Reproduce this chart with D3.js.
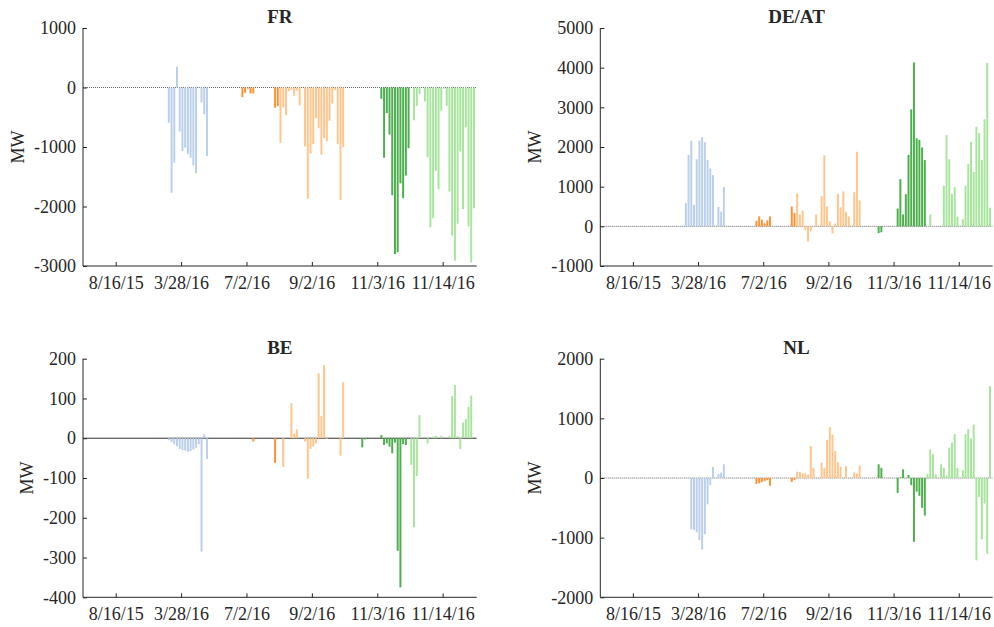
<!DOCTYPE html>
<html>
<head>
<meta charset="utf-8">
<script src="https://cdn.jsdelivr.net/npm/d3@7"></script>
<style>
  body { margin: 0; background: #fff; }
  text { font-family: "Liberation Serif", "Times New Roman", serif; fill: #262626; }
</style>
</head>
<body>
<svg id="chart" width="994" height="627"></svg>
<script>
// Hourly net flows (MW) for six representative days, 24 hours each.
const dayLabels = ["8/16/15", "3/28/16", "7/2/16", "9/2/16", "11/3/16", "11/14/16"];
const dayColors = ["#1f77b4", "#bacfeb", "#ff9232", "#ffc58c", "#4cae4c", "#a7e49c"];

const frValues = [
  0,0,0,0,0,0,0,0,0,0,0,0,0,0,0,0,0,0,0,0,0,0,0,0,
  0,0,0,0,0,0,0,-590,-1770,-1260,350,-740,-1070,-1010,-1120,-1180,-1310,-1440,-10,-250,-450,-1150,0,0,
  0,0,0,0,0,0,0,0,0,0,-160,-90,-20,-100,-100,0,0,0,0,0,0,0,-340,-310,
  -935,-336,-465,-60,-40,-140,-50,-300,0,-990,-1870,-1110,-950,-515,-685,-1130,-850,-905,-560,-270,-45,-950,-1890,-1000,
  0,0,0,0,0,0,0,0,0,0,0,0,0,-190,-1180,-430,-790,-1810,-2800,-2770,-1610,-1860,-1480,-1020,
  0,-550,-310,-110,0,-235,-1175,-2350,-2195,-1400,-1710,-390,-20,-310,-1750,-2490,-2910,-2290,-1075,-2045,-670,-2335,-2940,-2030
];

const deValues = [
  0,0,0,0,0,0,0,0,0,0,0,0,0,0,0,0,0,0,0,0,0,0,0,0,
  0,0,0,0,0,0,0,590,1800,2160,540,1690,2160,2250,2120,1670,1460,1290,0,490,370,990,0,0,
  0,0,0,0,0,0,0,0,0,140,250,170,80,150,250,0,0,0,0,0,0,0,500,340,
  830,300,400,-100,-380,-130,0,300,0,760,1790,500,130,-180,70,820,480,880,370,250,0,860,1880,650,
  0,0,0,0,0,0,-170,-150,0,0,0,0,0,450,1190,300,810,1800,2950,4130,2220,2180,1990,1670,
  0,300,0,0,0,0,1020,2300,1690,810,990,240,0,180,1020,1570,2130,1370,2510,2350,1670,2700,4120,470
];

const beValues = [
  0,0,0,0,0,0,0,0,0,0,0,0,0,0,0,0,0,0,0,0,0,0,0,0,
  0,0,0,0,0,0,0,-5,-10,-15,-20,-27,-30,-31,-34,-32,-28,-24,-15,-285,10,-52,0,0,
  0,0,0,0,0,0,0,0,0,0,0,0,0,0,-8,0,0,0,0,0,0,0,-62,0,
  0,-72,0,0,88,12,22,0,0,-8,-102,-27,-21,-13,163,56,184,-2,0,0,0,0,-44,141,
  0,0,0,0,0,0,-23,-3,0,0,0,0,0,8,-17,-13,-21,-38,-11,-283,-375,-15,-17,0,
  -67,-224,-95,58,0,0,-13,0,4,6,0,6,0,0,5,106,134,5,-27,39,48,79,107,0
];

const nlValues = [
  0,0,0,0,0,0,0,0,0,0,0,0,0,0,0,0,0,0,0,0,0,0,0,0,
  0,0,0,0,0,0,0,10,0,-860,-870,-910,-1040,-1200,-940,-440,-120,185,10,70,90,230,0,0,
  0,0,0,0,0,0,0,0,0,-100,-90,-70,-55,-35,-130,0,0,0,0,0,0,0,-67,-34,
  106,100,78,78,56,536,173,0,0,257,173,637,855,726,453,263,190,0,200,0,0,95,78,212,
  0,0,0,0,0,0,230,170,0,0,0,0,0,-250,10,145,0,50,-120,-1070,-230,-300,-500,-630,
  70,480,400,60,0,230,170,40,510,595,735,170,0,130,735,820,660,895,-1380,-320,-1030,-430,-1270,1540
];

const frTicks = [-3000, -2000, -1000, 0, 1000];
const deTicks = [-1000, 0, 1000, 2000, 3000, 4000, 5000];
const beTicks = [-400, -300, -200, -100, 0, 100, 200];
const nlTicks = [-2000, -1000, 0, 1000, 2000];

const panels = [
  { title: "FR",    values: frValues, ticks: frTicks, box: { left: 83,    right: 476.7, top: 28,    bottom: 266 },   dotted: true },
  { title: "DE/AT", values: deValues, ticks: deTicks, box: { left: 600.3, right: 992.7, top: 28,    bottom: 266 },   dotted: true },
  { title: "BE",    values: beValues, ticks: beTicks, box: { left: 83,    right: 476.7, top: 358.7, bottom: 597.3 }, dotted: false },
  { title: "NL",    values: nlValues, ticks: nlTicks, box: { left: 600.3, right: 992.7, top: 358.7, bottom: 597.3 }, dotted: true }
];

const svg = d3.select("#chart");
svg.append("rect").attr("width", 994).attr("height", 627).attr("fill", "#fff");

const axisColor = "#262626";
const tickFont = 18;
const tickLen = 4;
const hours = d3.range(1, 145);
const dayTickPos = dayLabels.map((d, k) => 12.5 + 24 * k);

panels.forEach(p => {
  const b = p.box;
  const x = d3.scaleLinear().domain([0.5, 145]).range([b.left, b.right]);
  const y = d3.scaleLinear().domain([p.ticks[0], p.ticks[p.ticks.length - 1]]).range([b.bottom, b.top]);
  const g = svg.append("g");
  const bw = (x(2) - x(1)) * 0.72;

  // zero baseline
  g.append("line")
    .attr("x1", b.left).attr("x2", b.right)
    .attr("y1", y(0)).attr("y2", y(0))
    .attr("stroke", p.dotted ? "#555" : "#333")
    .attr("stroke-width", p.dotted ? 0.9 : 1)
    .attr("stroke-dasharray", p.dotted ? "1,1" : null);

  // hourly bars, coloured by day
  g.selectAll("rect.bar")
    .data(hours.map((h, i) => ({ h, v: p.values[i] })).filter(d => d.v !== 0))
    .join("rect")
    .attr("class", "bar")
    .attr("x", d => x(d.h) - bw / 2)
    .attr("width", bw)
    .attr("y", d => y(Math.max(0, d.v)))
    .attr("height", d => Math.abs(y(d.v) - y(0)))
    .attr("fill", d => dayColors[Math.floor((d.h - 1) / 24)]);

  // y axis
  const yAxis = g.append("g").attr("transform", `translate(${b.left},0)`)
    .call(d3.axisLeft(y).tickValues(p.ticks).tickFormat(v => String(v)).tickSize(-tickLen).tickPadding(7));
  yAxis.select(".domain").attr("stroke", axisColor).attr("d", `M0,${b.top}V${b.bottom}`);
  yAxis.selectAll(".tick line").attr("stroke", axisColor);
  yAxis.selectAll(".tick text")
    .attr("font-size", tickFont).attr("font-family", "Liberation Serif, serif")
    .attr("fill", axisColor);

  // x axis
  const xAxis = g.append("g").attr("transform", `translate(0,${b.bottom})`)
    .call(d3.axisBottom(x).tickValues(dayTickPos).tickFormat((d, i) => dayLabels[i]).tickSize(-tickLen).tickPadding(10));
  xAxis.select(".domain").attr("stroke", axisColor).attr("d", `M${b.left},0H${b.right}`);
  xAxis.selectAll(".tick line").attr("stroke", axisColor);
  xAxis.selectAll(".tick text")
    .attr("font-size", tickFont).attr("font-family", "Liberation Serif, serif")
    .attr("fill", axisColor);

  // title
  g.append("text")
    .attr("x", (b.left + b.right) / 2).attr("y", b.top - 5)
    .attr("text-anchor", "middle")
    .attr("font-size", 19).attr("font-weight", "bold")
    .attr("fill", "#000")
    .text(p.title);

  // y label placed just left of the widest tick label
  let maxW = 0;
  yAxis.selectAll(".tick text").each(function () { maxW = Math.max(maxW, this.getComputedTextLength()); });
  const lx = b.left - 7 - maxW - 16.5;
  g.append("text")
    .attr("transform", `translate(${lx},${(b.top + b.bottom) / 2}) rotate(-90)`)
    .attr("text-anchor", "middle").attr("dominant-baseline", "central")
    .attr("font-size", 18).attr("fill", axisColor)
    .text("MW");
});
</script>
</body>
</html>
